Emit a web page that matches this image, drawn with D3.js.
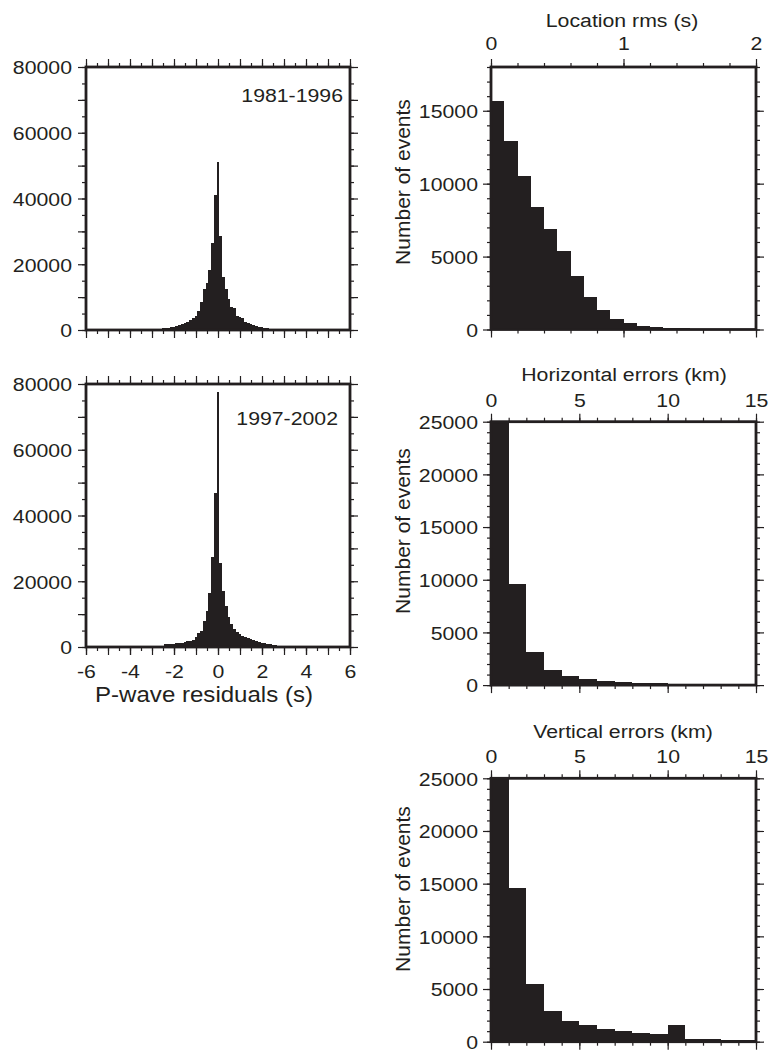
<!DOCTYPE html>
<html>
<head>
<meta charset="utf-8">
<script src="https://cdn.jsdelivr.net/npm/d3@7"></script>
<style>
body { margin: 0; background: #fff; }
text { font-family: "Liberation Sans", Arial, sans-serif; fill: #231f20; }
</style>
</head>
<body>
<script>
// P-wave residual histograms, bins 0.125 s wide, centres from -3.5 to 3.5
var presFirstCentre = -3.5, presBin = 0.125;
var pres8196 = [140, 160, 190, 220, 260, 300, 360, 420, 500, 600, 700, 800, 950, 1150, 1400, 1700, 2000, 2500, 3000, 3500,
  4300, 5900, 8400, 12400, 14200, 18300, 26500, 41200,
  51000,
  28700, 16000, 12500, 9500, 7000, 6600, 4200, 4000, 3600, 2500, 2200, 1900, 1400, 1200, 1000, 800, 650, 550, 450, 380,
  320, 270, 230, 200, 170, 150, 130, 110];
var pres9702 = [25, 30, 35, 40, 50, 60, 80, 150, 450, 800, 850, 950, 1050, 1150, 1250, 1350, 1500, 1700, 1900, 2200,
  3000, 4400, 4800, 8000, 11000, 16500, 27500, 46800,
  77500,
  25500, 17000, 12500, 9000, 7000, 5600, 4700, 4000, 3400, 3000, 2700, 2300, 2000, 1700, 1500, 1300, 1100, 950, 800, 650,
  500, 380, 250, 150, 100, 70, 50, 40];

// location rms, bins 0.1 s from 0
var rmsBin = 0.1;
var rmsCounts = [15700, 12950, 10550, 8430, 6900, 5380, 3700, 2230, 1320, 710, 455, 250, 180, 110, 90, 60, 40, 30, 20, 15];

// location errors, bins 1 km from 0 (first bin runs off the top of the frame)
var errBin = 1;
var horizCounts = [31000, 9600, 3130, 1420, 850, 570, 380, 290, 220, 160, 130, 90, 70, 50, 40];
var vertCounts = [30000, 14550, 5470, 2910, 1960, 1580, 1200, 1010, 850, 730, 1580, 250, 220, 130, 130];

var W = 772, H = 1050, ink = '#231f20', sx = 1.12;
var svg = d3.select('body').append('svg').attr('width', W).attr('height', H);
var clipN = 0;

function bins(counts, start, width) {
  return counts.map((v, i) => ({x0: start + i * width, x1: start + (i + 1) * width, v: v}));
}

function range(a, b, step) {
  var out = [];
  for (var i = 0; a + i * step <= b + 1e-9; i++) out.push(+(a + i * step).toFixed(6));
  return out;
}

function side(g, kind, scale, vals, size, fmt, off) {
  var a = d3[kind](scale).tickValues(vals).tickSize(size).tickSizeOuter(0)
    .tickFormat(fmt || (() => ''));
  var s = g.append('g').attr('transform', off || null).call(a);
  s.select('.domain').remove();
  s.attr('font-size', 19).attr('font-family', null);
  s.selectAll('line').attr('stroke', ink).attr('stroke-width', 1.2);
  return s;
}

function panel(o) {
  var g = svg.append('g').attr('transform', 'translate(' + o.left + ',' + o.top + ')');
  var x = d3.scaleLinear().domain(o.xDomain).range([0, o.w]);
  var y = d3.scaleLinear().domain(o.yDomain).range([o.h, 0]);
  var id = 'clip' + (clipN++);
  g.append('clipPath').attr('id', id).append('rect').attr('width', o.w).attr('height', o.h);
  g.append('g').attr('clip-path', 'url(#' + id + ')')
    .attr('shape-rendering', 'crispEdges')
    .selectAll('rect').data(o.bins).enter().append('rect')
      .attr('x', d => x(d.x0))
      .attr('width', d => x(d.x1) - x(d.x0))
      .attr('y', d => y(d.v))
      .attr('height', d => y(0) - y(d.v))
      .attr('fill', ink);

  // ticks on all four sides, short minor and long major
  var fmt = d => String(d);
  side(g, 'axisTop', x, o.xMinor, 4);
  side(g, 'axisBottom', x, o.xMinor, 4, null, 'translate(0,' + o.h + ')');
  side(g, 'axisLeft', y, o.yMinor, 4);
  side(g, 'axisRight', y, o.yMinor, 4, null, 'translate(' + o.w + ',0)');
  side(g, 'axisBottom', x, o.xMajor, 8, null, 'translate(0,' + o.h + ')');
  side(g, 'axisRight', y, o.yMajor, 8, null, 'translate(' + o.w + ',0)');

  var top = side(g, 'axisTop', x, o.xMajor, 8, o.xLabelTop ? (d => o.xLabels.indexOf(d) >= 0 ? fmt(d) : '') : null);
  top.selectAll('text').attr('y', -o.topPad).attr('dy', null).attr('transform', 'scale(' + sx + ',1)');

  if (o.xLabelBottom) {
    var bot = side(g, 'axisBottom', x, o.xLabels, 8, fmt, 'translate(0,' + o.h + ')');
    bot.selectAll('text').attr('y', 31).attr('dy', null).attr('transform', 'scale(' + sx + ',1)');
  }

  var left = side(g, 'axisLeft', y, o.yMajor, 8, d => o.yLabels.indexOf(d) >= 0 ? fmt(d) : '');
  left.selectAll('text').attr('x', null).attr('dy', '0.36em')
    .attr('transform', 'translate(' + (-o.leftPad) + ',0) scale(' + sx + ',1)');

  g.append('rect').attr('width', o.w).attr('height', o.h)
    .attr('fill', 'none').attr('stroke', ink).attr('stroke-width', 2.8);
  return g;
}

function label(txt, x, y, size, anchor, rot) {
  var t = svg.append('text').text(txt).attr('font-size', size).attr('text-anchor', anchor);
  if (rot) t.attr('transform', 'translate(' + x + ',' + y + ') rotate(-90)');
  else t.attr('transform', 'translate(' + x + ',' + y + ') scale(' + sx + ',1)');
  return t;
}

// left column: P-wave residuals
var presTicks = {xDomain: [-6, 6], yDomain: [0, 80000], w: 264, h: 263,
  xMinor: range(-6, 6, 0.5), xMajor: range(-6, 6, 1), xLabels: range(-6, 6, 2),
  yMinor: range(0, 80000, 5000), yMajor: range(0, 80000, 10000), yLabels: range(0, 80000, 20000),
  leftPad: 14, topPad: 16};

panel(Object.assign({}, presTicks, {left: 86, top: 67,
  bins: bins(pres8196, presFirstCentre - presBin / 2, presBin)}));
panel(Object.assign({}, presTicks, {left: 86, top: 384, xLabelBottom: true,
  bins: bins(pres9702, presFirstCentre - presBin / 2, presBin)}));

label('1981-1996', 343, 102, 19, 'end');
label('1997-2002', 338, 425, 19, 'end');
label('P-wave residuals (s)', 204, 702, 21.5, 'middle');

// right column
panel({left: 491, top: 67, w: 265, h: 262.5, xDomain: [0, 2], yDomain: [0, 18000],
  xMinor: range(0, 2, 0.2), xMajor: [0, 1, 2], xLabels: [0, 1, 2], xLabelTop: true,
  yMinor: range(0, 18000, 1000), yMajor: range(0, 15000, 5000), yLabels: range(0, 15000, 5000),
  leftPad: 13, topPad: 17, bins: bins(rmsCounts, 0, rmsBin)});

var errTicks = {left: 491, w: 265, h: 263.4, xDomain: [0, 15], yDomain: [0, 25000],
  xMinor: range(0, 15, 1), xMajor: [0, 5, 10, 15], xLabels: [0, 5, 10, 15], xLabelTop: true,
  yMinor: range(0, 25000, 1000), yMajor: range(0, 25000, 5000), yLabels: range(0, 25000, 5000),
  leftPad: 13, topPad: 15};

panel(Object.assign({}, errTicks, {top: 421.7, bins: bins(horizCounts, 0, errBin)}));
panel(Object.assign({}, errTicks, {top: 778.3, bins: bins(vertCounts, 0, errBin)}));

label('Location rms (s)', 622, 27, 19, 'middle');
label('Horizontal errors (km)', 624, 381, 19, 'middle');
label('Vertical errors (km)', 623, 738, 19, 'middle');
label('Number of events', 410, 182, 21, 'middle', true);
label('Number of events', 410, 531, 21, 'middle', true);
label('Number of events', 410, 889, 21, 'middle', true);
</script>
</body>
</html>
